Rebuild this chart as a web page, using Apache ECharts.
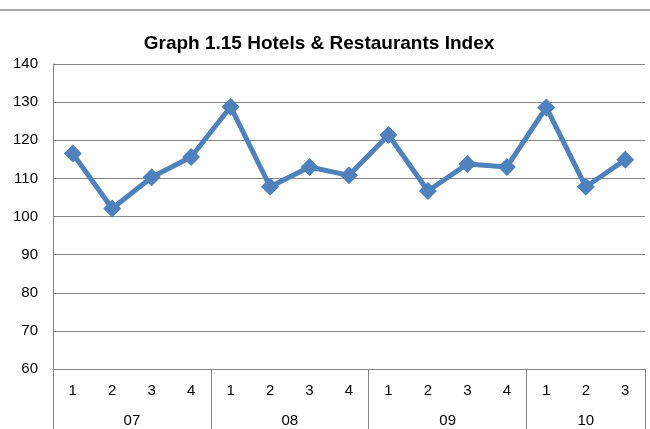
<!DOCTYPE html>
<html><head><meta charset="utf-8">
<script src="https://cdn.jsdelivr.net/npm/echarts@6/dist/echarts.min.js"></script>
<style>html,body{margin:0;padding:0;background:#fff}#c{width:650px;height:429px}</style>
</head><body><div id="c"></div>
<script>
const quarters = ['1','2','3','4','1','2','3','4','1','2','3','4','1','2','3'];
const years = ['07','08','09','10'];
const yearCenters = [2, 6, 10, 13.5];
const yearBounds = [0, 4, 8, 12, 15];
const values = [116.5, 102.1, 110.3, 115.6, 128.8, 107.8, 113.0, 110.8, 121.4, 106.7, 113.8, 113.0, 128.6, 107.8, 114.9];
const yTicks = [60, 140, 10];

const chart = echarts.init(document.getElementById('c'));
const F = 'Liberation Sans, Arial, sans-serif';
chart.setOption({
  animation: false,
  title: {
    text: 'Graph 1.15 Hotels & Restaurants Index',
    left: 314, top: 29, textAlign: 'center',
    textStyle: { fontFamily: F, fontSize: 19, fontWeight: 'bold', color: '#000' }
  },
  graphic: [{ type: 'line', shape: { x1: 0, y1: 10, x2: 650, y2: 10 }, style: { stroke: '#8c8c8c', lineWidth: 1.5 } }],
  grid: { left: 53, right: 5, top: 64, bottom: 60 },
  xAxis: [{
    type: 'category', data: quarters, boundaryGap: true,
    axisLine: { show: true, lineStyle: { color: '#868686', width: 1 } },
    axisTick: { show: false },
    axisLabel: { color: '#000', fontFamily: F, fontSize: 15, margin: 14 }
  }, {
    type: 'value', min: 0, max: 15, interval: 0.5, position: 'bottom',
    axisLine: { show: false },
    splitLine: { show: false },
    axisTick: { show: true, customValues: yearBounds, length: 62, lineStyle: { color: '#868686', width: 1 } },
    axisLabel: { customValues: yearCenters, color: '#000', fontFamily: F, fontSize: 15, margin: 44,
      formatter: v => { const i = yearCenters.indexOf(v); return i >= 0 ? years[i] : ''; } }
  }],
  yAxis: {
    type: 'value', min: yTicks[0], max: yTicks[1], interval: yTicks[2],
    axisLine: { show: true, lineStyle: { color: '#868686', width: 1 } },
    axisTick: { show: false },
    splitLine: { lineStyle: { color: '#868686', width: 1 } },
    axisLabel: { color: '#000', fontFamily: F, fontSize: 15, margin: 15 }
  },
  series: [{
    type: 'line', data: values, xAxisIndex: 0,
    symbol: 'diamond', symbolSize: 18,
    lineStyle: { color: '#4F81BD', width: 5 },
    itemStyle: { color: '#4F81BD' }
  }]
});
</script></body></html>
